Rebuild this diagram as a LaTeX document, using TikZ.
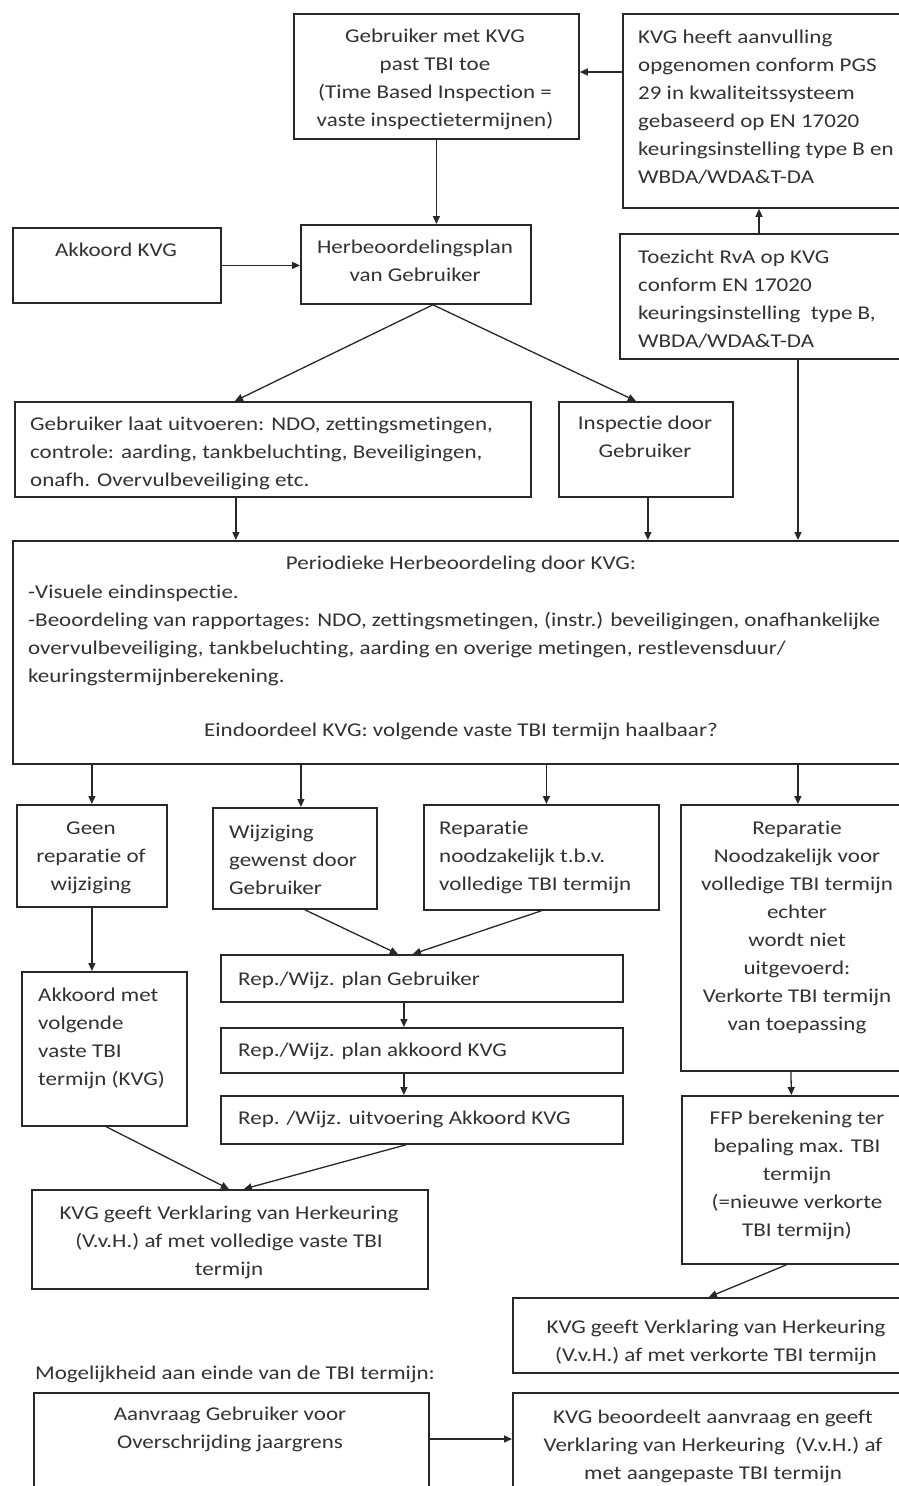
\documentclass[tikz,border=0pt]{standalone}
\usepackage{fontspec}
\setmainfont{Carlito}[FakeStretch=1.18, Ligatures=NoCommon]
\usetikzlibrary{arrows.meta}
\definecolor{textcol}{RGB}{50,50,50}
\definecolor{linecol}{RGB}{40,40,40}
\tikzset{
  box/.style={draw=linecol, line width=1.8pt, rectangle, inner sep=0pt, anchor=north west},
  txt/.style={inner sep=0pt, text=textcol, font=\fontsize{19.5}{28}\selectfont},
  txtc/.style={txt, align=center, anchor=north},
  txtl/.style={txt, align=left, anchor=north west},
  arr/.style={draw=linecol, line width=1.3pt, -{Triangle[length=8pt,width=7pt]}},
}
\begin{document}
\begin{tikzpicture}[x=1pt,y=-1pt]
\useasboundingbox (0,0) rectangle (899,1486);
\fill[white] (0,0) rectangle (899,1486);
\clip (0,0) rectangle (899,1486);

% boxes
\node[box, minimum width=285pt, minimum height=125pt] (A) at (293,13) {};
\node[box, minimum width=290pt, minimum height=194pt] (B) at (622,13) {};
\node[box, minimum width=208pt, minimum height=75pt]  (C) at (12,227) {};
\node[box, minimum width=230pt, minimum height=79pt]  (D) at (300,224) {};
\node[box, minimum width=293pt, minimum height=125pt] (E) at (619,233) {};
\node[box, minimum width=516pt, minimum height=95pt]  (F) at (14,401) {};
\node[box, minimum width=174pt, minimum height=95pt]  (G) at (558,401) {};
\node[box, minimum width=900pt, minimum height=223pt] (H) at (12,540) {};
\node[box, minimum width=150pt, minimum height=102pt] (I) at (16,804) {};
\node[box, minimum width=164pt, minimum height=101pt] (J) at (212,807) {};
\node[box, minimum width=235pt, minimum height=105pt] (K) at (423,804) {};
\node[box, minimum width=234pt, minimum height=266pt] (L) at (680,804) {};
\node[box, minimum width=402pt, minimum height=47pt]  (M) at (220,954) {};
\node[box, minimum width=402pt, minimum height=45pt]  (N) at (220,1027) {};
\node[box, minimum width=402pt, minimum height=48pt]  (O) at (220,1095) {};
\node[box, minimum width=165pt, minimum height=154pt] (P) at (21,971) {};
\node[box, minimum width=233pt, minimum height=168pt] (Q) at (681,1095) {};
\node[box, minimum width=396pt, minimum height=99pt]  (R) at (31,1189) {};
\node[box, minimum width=408pt, minimum height=75pt]  (S) at (512,1297) {};
\node[box, minimum width=395pt, minimum height=110pt] (T) at (33,1392) {};
\node[box, minimum width=408pt, minimum height=110pt] (U) at (512,1392) {};

% texts
\node[txtc] (At) at (435,22.4) {\strut Gebruiker met KVG\\past TBI toe\\(Time Based Inspection =\\vaste inspectietermijnen)};
\node[txtl] (Bt) at (638,23.4) {\strut KVG heeft aanvulling\\opgenomen conform PGS\\29 in kwaliteitssysteem\\gebaseerd op EN 17020\\keuringsinstelling type B en\\WBDA/WDA\&T-DA};
\node[txtc] (Ct) at (116,236.4) {\strut Akkoord KVG};
\node[txtc] (Dt) at (415,233.4) {\strut Herbeoordelingsplan\\van Gebruiker};
\node[txtl] (Et) at (638,243.4) {\strut Toezicht RvA op KVG\\conform EN 17020\\keuringsinstelling\ \ type B,\\WBDA/WDA\&T-DA};
\node[txtl] (Ft) at (30,410.4) {\strut Gebruiker laat uitvoeren: NDO, zettingsmetingen,\\controle: aarding, tankbeluchting, Beveiligingen,\\onafh. Overvulbeveiliging etc.};
\node[txtc] (Gt) at (645,409.4) {\strut Inspectie door\\Gebruiker};
\node[txtc] (Ht1) at (461,549.4) {\strut Periodieke Herbeoordeling door KVG:};
\node[txtl] (Ht2) at (28,578.4) {\strut -Visuele eindinspectie.\\-Beoordeling van rapportages: NDO, zettingsmetingen, (instr.) beveiligingen, onafhankelijke\\overvulbeveiliging, tankbeluchting, aarding en overige metingen, restlevensduur/\\keuringstermijnberekening.};
\node[txtc] (Ht3) at (461,716.4) {\strut Eindoordeel KVG: volgende vaste TBI termijn haalbaar?};
\node[txtc] (It) at (91,814.4) {\strut Geen\\reparatie of\\wijziging};
\node[txtl] (Jt) at (229,818.4) {\strut Wijziging\\gewenst door\\Gebruiker};
\node[txtl] (Kt) at (439,814.4) {\strut Reparatie\\noodzakelijk t.b.v.\\volledige TBI termijn};
\node[txtc] (Lt) at (797,814.4) {\strut Reparatie\\Noodzakelijk voor\\volledige TBI termijn\\echter\\wordt niet\\uitgevoerd:\\Verkorte TBI termijn\\van toepassing};
\node[txtl] (Mt) at (238,965.4) {\strut Rep./Wijz. plan Gebruiker};
\node[txtl] (Nt) at (238,1036.4) {\strut Rep./Wijz. plan akkoord KVG};
\node[txtl] (Ot) at (238,1104.4) {\strut Rep. /Wijz. uitvoering Akkoord KVG};
\node[txtl] (Pt) at (38,981.4) {\strut Akkoord met\\volgende\\vaste TBI\\termijn (KVG)};
\node[txtc] (Qt) at (797,1104.4) {\strut FFP berekening ter\\bepaling max. TBI\\termijn\\(=nieuwe verkorte\\TBI termijn)};
\node[txtc] (Rt) at (229,1199.4) {\strut KVG geeft Verklaring van Herkeuring\\(V.v.H.) af met volledige vaste TBI\\termijn};
\node[txtc] (St) at (716,1313.4) {\strut KVG geeft Verklaring van Herkeuring\\(V.v.H.) af met verkorte TBI termijn};
\node[txtl] (Mog) at (35,1359.4) {\strut Mogelijkheid aan einde van de TBI termijn:};
\node[txtc] (Tt) at (230,1400.4) {\strut Aanvraag Gebruiker voor\\Overschrijding jaargrens};
\node[txtc] (Ut) at (713,1403.4) {\strut KVG beoordeelt aanvraag en geeft\\Verklaring van Herkeuring\ \ (V.v.H.) af\\met aangepaste TBI termijn};

% connectors
\draw[arr] ([yshift=-59pt]B.north west) -- ([yshift=-59pt]A.north east);
\draw[arr] (A.south) -- (A.south |- D.north);
\draw[arr] (C.east) -- (C.east -| D.west);
\draw[arr] ([xshift=140pt]E.north west) -- ([xshift=140pt]E.north west |- B.south);
\draw[arr] ([xshift=17pt]D.south) -- ([xshift=-38pt]F.north);
\draw[arr] ([xshift=17pt]D.south) -- ([xshift=-10pt]G.north);
\draw[arr] ([xshift=179pt]E.south west) -- ([xshift=179pt]E.south west |- H.north);
\draw[arr] ([xshift=-37pt]F.south) -- ([xshift=-37pt]F.south |- H.north);
\draw[arr] ([xshift=2pt]G.south) -- ([xshift=2pt]G.south |- H.north);
\draw[arr] (I.north |- H.south) -- (I.north);
\draw[arr] ([xshift=6pt]J.north |- H.south) -- ([xshift=6pt]J.north);
\draw[arr] ([xshift=5pt]K.north |- H.south) -- ([xshift=5pt]K.north);
\draw[arr] (L.north |- H.south) -- (L.north);
\draw[arr] (I.south) -- (I.south |- P.north);
\draw[arr] ([xshift=10pt]J.south) -- ([xshift=-24pt]M.north);
\draw[arr] (K.south) -- ([xshift=-9pt]M.north);
\draw[arr] ([xshift=-18pt]M.south) -- ([xshift=-18pt]N.north);
\draw[arr] ([xshift=-18pt]N.south) -- ([xshift=-18pt]O.north);
\draw[arr] ([xshift=2pt]P.south) -- ([xshift=-1pt]R.north);
\draw[arr] ([xshift=-16pt]O.south) -- ([xshift=14pt]R.north);
\draw[arr] ([xshift=-7pt]L.south) -- ([xshift=-7pt]Q.north);
\draw[arr] ([xshift=-12pt]Q.south) -- ([xshift=-8pt]S.north);
\draw[arr] ([yshift=-47pt]T.north east) -- ([yshift=-47pt]T.north east -| U.west);
\end{tikzpicture}
\end{document}
